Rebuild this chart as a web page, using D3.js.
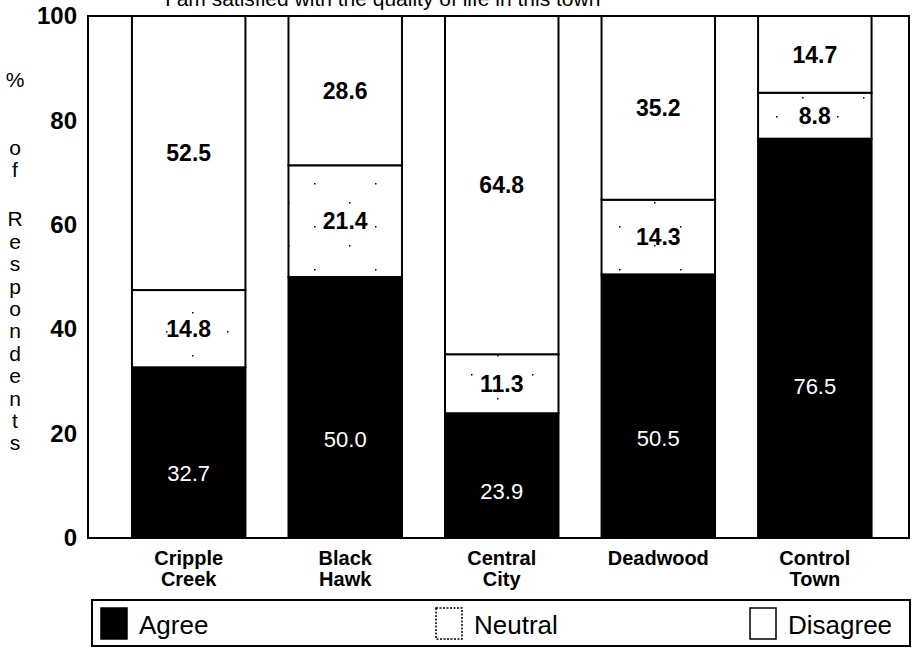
<!DOCTYPE html>
<html>
<head>
<meta charset="utf-8">
<script src="https://cdn.jsdelivr.net/npm/d3@7"></script>
<style>
  html, body { margin: 0; padding: 0; background: #fff; }
  svg { display: block; font-family: "Liberation Sans", Arial, Helvetica, sans-serif; }
</style>
</head>
<body>
<svg id="chart" width="915" height="648"></svg>
<script>
// Survey towns and response shares (% of respondents)
const categories = ["Cripple Creek", "Black Hawk", "Central City", "Deadwood", "Control Town"];
const categoryLines = [["Cripple", "Creek"], ["Black", "Hawk"], ["Central", "City"], ["Deadwood"], ["Control", "Town"]];
const agree    = [32.7, 50.0, 23.9, 50.5, 76.5];
const neutral  = [14.8, 21.4, 11.3, 14.3, 8.8];
const disagree = [52.5, 28.6, 64.8, 35.2, 14.7];
const seriesNames = ["Agree", "Neutral", "Disagree"];
const yTicks = [0, 20, 40, 60, 80, 100];
const title = "I am satisfied with the quality of life in this town";

const rows = categories.map((c, i) => ({
  name: c, Agree: agree[i], Neutral: neutral[i], Disagree: disagree[i]
}));

const svg = d3.select("#chart");
const plot = { left: 88, right: 909, top: 16, bottom: 538 };

const x = d3.scaleBand()
  .domain(categories)
  .range([plot.left, plot.right])
  .paddingInner(0.275)
  .paddingOuter(0.26)
  .align(0.54);

const y = d3.scaleLinear().domain([0, 100]).range([plot.bottom, plot.top]);

// Sparse speckle used for the neutral share
const defs = svg.append("defs");
const pat = defs.append("pattern")
  .attr("id", "speckle").attr("patternUnits", "userSpaceOnUse")
  .attr("width", 61).attr("height", 43);
pat.append("rect").attr("width", 61).attr("height", 43).attr("fill", "#fff");
[[9, 11], [44, 30]].forEach(([px, py]) =>
  pat.append("rect").attr("x", px).attr("y", py).attr("width", 1.5).attr("height", 1.5).attr("fill", "#000"));

const fills = { Agree: "#000", Neutral: "url(#speckle)", Disagree: "#fff" };

// Title (runs off the top edge of the page)
svg.append("text")
  .attr("x", 165).attr("y", 6)
  .attr("font-size", 21)
  .attr("fill", "#000")
  .text(title);

// Plot frame
svg.append("rect")
  .attr("x", plot.left).attr("y", plot.top)
  .attr("width", plot.right - plot.left).attr("height", plot.bottom - plot.top)
  .attr("fill", "#fff").attr("stroke", "#000").attr("stroke-width", 2);

// Stacked bars
const stacked = d3.stack().keys(seriesNames)(rows);
const layers = svg.append("g").selectAll("g").data(stacked).join("g")
  .attr("fill", d => fills[d.key]);

layers.selectAll("rect").data(d => d.map(p => ({ key: d.key, p }))).join("rect")
  .attr("x", d => x(d.p.data.name))
  .attr("y", d => y(d.p[1]))
  .attr("width", x.bandwidth())
  .attr("height", d => y(d.p[0]) - y(d.p[1]))
  .attr("stroke", "#000")
  .attr("stroke-width", 2);

// Value labels inside segments
const labels = svg.append("g").attr("text-anchor", "middle");
stacked.forEach(layer => {
  layer.forEach(p => {
    const v = p[1] - p[0];
    const isAgree = layer.key === "Agree";
    const pos = isAgree ? p[0] + v * 0.38 : p[0] + v * 0.5;
    labels.append("text")
      .attr("x", x(p.data.name) + x.bandwidth() / 2)
      .attr("y", y(pos))
      .attr("dy", "0.36em")
      .attr("font-size", isAgree ? 22 : 23)
      .attr("font-weight", isAgree ? "normal" : "bold")
      .attr("fill", isAgree ? "#fff" : "#000")
      .text(v.toFixed(1));
  });
});

// Y axis tick labels
const yAxis = d3.axisLeft(y).tickValues(yTicks).tickSize(0).tickPadding(11);
const yG = svg.append("g").attr("transform", `translate(${plot.left},0)`).call(yAxis);
yG.select(".domain").remove();
yG.selectAll("text")
  .attr("font-family", "'Liberation Sans', Arial, sans-serif")
  .attr("font-size", 24)
  .attr("font-weight", "bold")
  .attr("fill", "#000");

// Y axis title, letters stacked vertically in three groups
const titleGroups = [
  { chars: "%", start: 80, step: 22 },
  { chars: "of", start: 148, step: 22 },
  { chars: "Respondents", start: 219, step: 22.4 }
];
const tG = svg.append("g").attr("text-anchor", "middle").attr("font-size", 21).attr("fill", "#000");
titleGroups.forEach(g => {
  g.chars.split("").forEach((ch, i) => {
    tG.append("text").attr("x", 15).attr("y", g.start + i * g.step).attr("dy", "0.35em").text(ch);
  });
});

// Category labels under the bars
const cG = svg.append("g").attr("text-anchor", "middle").attr("font-size", 20).attr("font-weight", "bold");
categories.forEach((c, i) => {
  const cx = x(c) + x.bandwidth() / 2;
  const t = cG.append("text").attr("x", cx).attr("y", 565);
  categoryLines[i].forEach((line, j) => {
    t.append("tspan").attr("x", cx).attr("dy", j === 0 ? 0 : 21).text(line);
  });
});

// Legend
const legend = { left: 92, right: 910, top: 600, bottom: 646 };
svg.append("rect")
  .attr("x", legend.left).attr("y", legend.top)
  .attr("width", legend.right - legend.left).attr("height", legend.bottom - legend.top)
  .attr("fill", "#fff").attr("stroke", "#000").attr("stroke-width", 2);

const legendX = d3.scaleOrdinal().domain(seriesNames).range([101, 436, 750]);
const lg = svg.append("g").selectAll("g").data(seriesNames).join("g")
  .attr("transform", d => `translate(${legendX(d)},${legend.top + 8})`);
lg.append("rect")
  .attr("width", 26)
  .attr("height", 31)
  .attr("fill", d => d === "Agree" ? "#000" : "#fff")
  .attr("stroke", "#000")
  .attr("stroke-width", 1.5)
  .attr("stroke-dasharray", d => d === "Neutral" ? "2,1.5" : null);
lg.append("text")
  .attr("x", 38)
  .attr("y", 17)
  .attr("dy", "0.35em")
  .attr("font-size", 26)
  .text(d => d);
</script>
</body>
</html>
